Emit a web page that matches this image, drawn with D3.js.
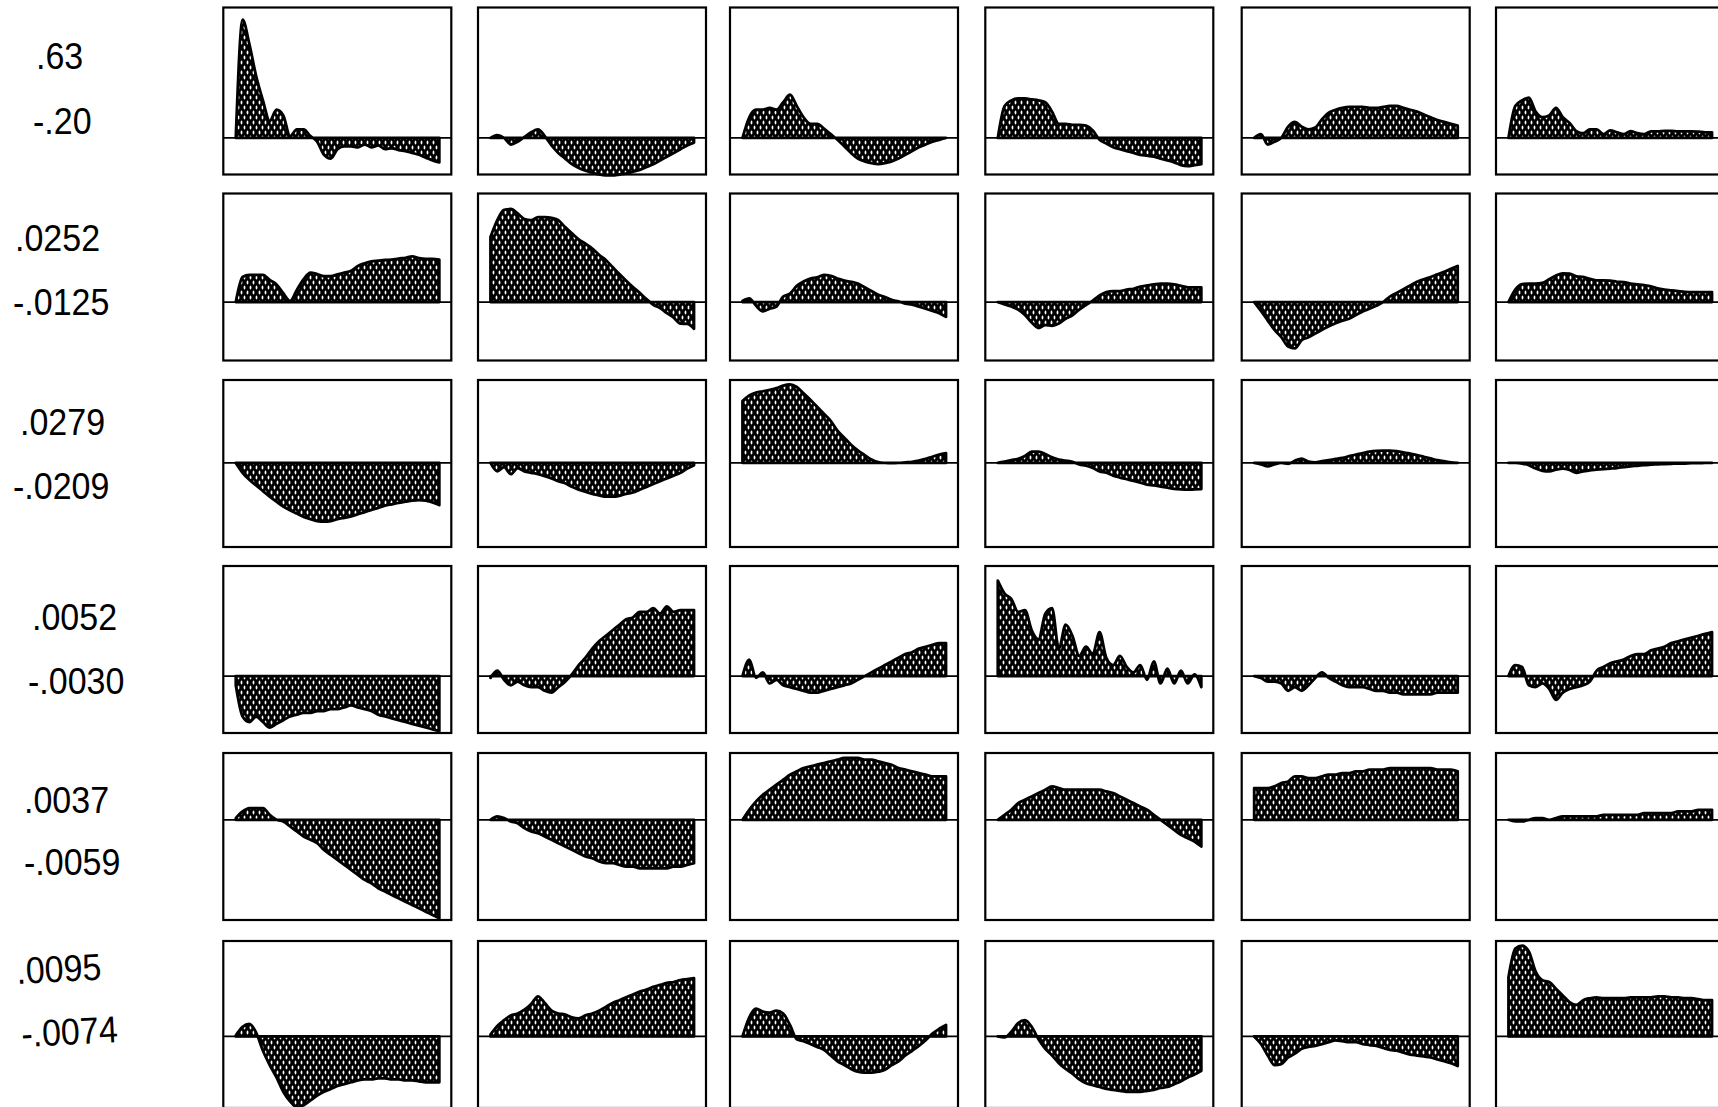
<!DOCTYPE html>
<html><head><meta charset="utf-8">
<script src="https://cdn.jsdelivr.net/npm/d3@7"></script>
<style>html,body{margin:0;padding:0;background:#fff;overflow:hidden}</style>
</head><body>
<svg id="chart" width="1718" height="1107"></svg>
<script>
// Row scale labels (row maximum / row minimum)
const maxLabels = [".63", ".0252", ".0279", ".0052", ".0037", ".0095"];
const minLabels = ["-.20", "-.0125", "-.0209", "-.0030", "-.0059", "-.0074"];
const maxValues = [0.63, 0.0252, 0.0279, 0.0052, 0.0037, 0.0095];
const minValues = [-0.20, -0.0125, -0.0209, -0.0030, -0.0059, -0.0074];

// Vertical extent shared by all panels of a row
const rowExtent = [
  [-0.195, 0.695],
  [-0.0158, 0.0294],
  [-0.0299, 0.0295],
  [-0.0031, 0.0060],
  [-0.0060, 0.0040],
  [-0.0075, 0.0100]
];

// Responses, one array per panel, row by row
const row1 = [
  [0,0.63,0.50,0.33,0.20,0.09,0.15,0.12,0.01,0.045,0.045,0.01,-0.02,-0.09,-0.11,-0.06,-0.045,-0.045,-0.05,-0.035,-0.05,-0.04,-0.06,-0.055,-0.065,-0.07,-0.08,-0.09,-0.105,-0.12,-0.13],
  [0,0.015,0,-0.035,-0.02,0.005,0.03,0.045,0.01,-0.04,-0.08,-0.11,-0.14,-0.16,-0.175,-0.185,-0.195,-0.20,-0.20,-0.195,-0.19,-0.18,-0.17,-0.155,-0.14,-0.12,-0.10,-0.08,-0.06,-0.04,-0.025],
  [0,0.11,0.15,0.15,0.16,0.15,0.19,0.23,0.17,0.11,0.075,0.075,0.05,0.02,-0.01,-0.045,-0.08,-0.11,-0.125,-0.135,-0.14,-0.135,-0.125,-0.11,-0.09,-0.07,-0.05,-0.035,-0.02,-0.01,0],
  [0,0.17,0.20,0.21,0.21,0.205,0.20,0.19,0.14,0.075,0.075,0.07,0.07,0.065,0.04,-0.01,-0.03,-0.05,-0.06,-0.07,-0.08,-0.09,-0.095,-0.10,-0.11,-0.12,-0.13,-0.145,-0.15,-0.145,-0.14],
  [0,0.02,-0.035,-0.02,0,0.06,0.085,0.06,0.045,0.055,0.10,0.135,0.15,0.16,0.165,0.165,0.165,0.16,0.16,0.165,0.17,0.17,0.16,0.15,0.14,0.125,0.11,0.095,0.085,0.075,0.065],
  [0,0.17,0.20,0.215,0.14,0.11,0.12,0.16,0.11,0.08,0.036,0.025,0.045,0.045,0.02,0.04,0.03,0.02,0.036,0.025,0.02,0.035,0.035,0.037,0.037,0.035,0.035,0.035,0.033,0.03,0.03]
];
const row2 = [
  [0,0.0068,0.0074,0.0074,0.0074,0.0060,0.0048,0.0024,0.0003,0.0033,0.0062,0.0080,0.0076,0.0070,0.0070,0.0075,0.0080,0.0085,0.0098,0.0105,0.0110,0.0112,0.0114,0.0115,0.0118,0.0120,0.0124,0.0119,0.0117,0.0117,0.0115],
  [0.0176,0.0222,0.0250,0.0252,0.0240,0.0225,0.0222,0.0230,0.0230,0.0228,0.0222,0.0203,0.0186,0.0170,0.0158,0.0145,0.0128,0.0114,0.0095,0.0076,0.0058,0.0041,0.0025,0.0008,-0.0007,-0.0016,-0.0030,-0.0042,-0.0058,-0.0059,-0.0072],
  [0.0003,0.0010,-0.0010,-0.0025,-0.0018,-0.0012,0.0015,0.0023,0.0044,0.0056,0.0064,0.0067,0.0074,0.0071,0.0064,0.0058,0.0055,0.0050,0.0040,0.0030,0.0020,0.0014,0.0006,0.0002,-0.0004,-0.0007,-0.0012,-0.0018,-0.0024,-0.0030,-0.0040],
  [0,-0.0006,-0.0012,-0.0020,-0.0035,-0.0055,-0.0070,-0.0062,-0.0064,-0.0058,-0.0045,-0.0036,-0.0020,-0.0008,0.0004,0.0018,0.0027,0.0030,0.0030,0.0034,0.0036,0.0042,0.0045,0.0048,0.0050,0.0050,0.0048,0.0044,0.0040,0.0040,0.0040],
  [0,-0.0024,-0.0050,-0.0075,-0.0095,-0.0120,-0.0125,-0.0103,-0.0095,-0.0085,-0.0075,-0.0065,-0.0057,-0.0050,-0.0045,-0.0035,-0.0025,-0.0018,-0.0010,0,0.0015,0.0025,0.0035,0.0045,0.0055,0.0062,0.0068,0.0075,0.0082,0.0090,0.0098],
  [0,0.0034,0.0049,0.0050,0.0050,0.0052,0.0062,0.0072,0.0078,0.0077,0.0070,0.0068,0.0063,0.0059,0.0059,0.0058,0.0055,0.0054,0.0050,0.0048,0.0046,0.0043,0.0037,0.0034,0.0032,0.0030,0.0028,0.0027,0.0027,0.0027,0.0027]
];
const row3 = [
  [0,-0.0035,-0.0060,-0.0080,-0.0100,-0.0120,-0.0138,-0.0155,-0.0168,-0.0180,-0.0192,-0.0200,-0.0207,-0.0209,-0.0207,-0.0200,-0.0195,-0.0190,-0.0182,-0.0175,-0.0167,-0.0160,-0.0152,-0.0147,-0.0142,-0.0138,-0.0134,-0.0132,-0.0134,-0.0140,-0.0150],
  [0,-0.0030,-0.0015,-0.0040,-0.0018,-0.0030,-0.0035,-0.0040,-0.0047,-0.0055,-0.0065,-0.0072,-0.0085,-0.0095,-0.0102,-0.0110,-0.0115,-0.0120,-0.0120,-0.0117,-0.0110,-0.0105,-0.0095,-0.0085,-0.0075,-0.0065,-0.0055,-0.0045,-0.0035,-0.0020,-0.0008],
  [0.0220,0.0240,0.0250,0.0255,0.0260,0.0266,0.0275,0.0279,0.0270,0.0248,0.0225,0.0200,0.0175,0.0150,0.0115,0.0090,0.0065,0.0045,0.0028,0.0012,0.0003,0,-0.0001,0,0.0002,0.0004,0.0008,0.0015,0.0022,0.0030,0.0035],
  [0,0.0005,0.0010,0.0015,0.0025,0.0040,0.0040,0.0032,0.0020,0.0012,0.0008,0.0004,-0.0005,-0.0010,-0.0018,-0.0030,-0.0035,-0.0045,-0.0052,-0.0058,-0.0064,-0.0070,-0.0077,-0.0080,-0.0084,-0.0088,-0.0092,-0.0094,-0.0095,-0.0094,-0.0093],
  [0,-0.0005,-0.0012,-0.0005,0,-0.0003,0.0008,0.0015,0.0005,0.0002,0.0006,0.0010,0.0014,0.0018,0.0024,0.0030,0.0035,0.0040,0.0043,0.0044,0.0044,0.0042,0.0038,0.0033,0.0028,0.0022,0.0016,0.0010,0.0006,0.0002,0],
  [0,0,-0.0002,-0.0008,-0.0020,-0.0028,-0.0030,-0.0024,-0.0020,-0.0025,-0.0035,-0.0030,-0.0026,-0.0024,-0.0022,-0.0020,-0.0018,-0.0015,-0.0012,-0.0010,-0.0008,-0.0006,-0.0005,-0.0004,-0.0003,-0.0002,-0.0002,-0.0001,-0.0001,0,0]
];
const row4 = [
  [-0.0005,-0.0022,-0.0025,-0.0022,-0.0025,-0.0028,-0.0026,-0.0024,-0.0022,-0.0021,-0.0020,-0.0020,-0.0019,-0.0019,-0.0018,-0.0018,-0.0017,-0.0016,-0.0017,-0.0018,-0.0019,-0.0021,-0.0022,-0.0023,-0.0024,-0.0025,-0.0026,-0.0027,-0.0028,-0.0029,-0.0030],
  [-0.0001,0.0003,-0.0002,-0.0005,-0.0003,-0.0005,-0.0006,-0.0006,-0.0008,-0.0009,-0.0006,-0.0003,0.0001,0.0006,0.0010,0.0015,0.0019,0.0022,0.0025,0.0028,0.0031,0.0032,0.0035,0.0035,0.0037,0.0034,0.0038,0.0035,0.0036,0.0036,0.0036],
  [0,0.0009,-0.0001,0.0002,-0.0004,-0.0002,-0.0005,-0.0006,-0.0007,-0.0008,-0.0009,-0.0009,-0.0008,-0.0007,-0.0006,-0.0005,-0.0004,-0.0002,0,0.0002,0.0004,0.0006,0.0008,0.0010,0.0012,0.0013,0.0015,0.0016,0.0017,0.0018,0.0018],
  [0.0052,0.0045,0.0042,0.0035,0.0036,0.0025,0.0020,0.0034,0.0037,0.0015,0.0028,0.0022,0.0011,0.0016,0.0012,0.0024,0.0010,0.0006,0.0011,0.0005,0.0002,0.0006,-0.0002,0.0008,-0.0004,0.0004,-0.0004,0.0003,-0.0004,0.0001,-0.0006],
  [0,-0.0001,-0.0003,-0.0003,-0.0004,-0.0008,-0.0006,-0.0008,-0.0005,-0.0001,0.0002,-0.0001,-0.0003,-0.0005,-0.0006,-0.0006,-0.0006,-0.0007,-0.0008,-0.0008,-0.0009,-0.0009,-0.0010,-0.0010,-0.0010,-0.0010,-0.0010,-0.0009,-0.0009,-0.0009,-0.0009],
  [0,0.0006,0.0005,-0.0005,-0.0006,-0.0004,-0.0007,-0.0013,-0.0009,-0.0007,-0.0006,-0.0005,-0.0003,0.0003,0.0005,0.0007,0.0008,0.0009,0.0011,0.0012,0.0012,0.0014,0.0015,0.0016,0.0018,0.0019,0.0020,0.0021,0.0022,0.0023,0.0024]
];
const row5 = [
  [0.0001,0.0005,0.0007,0.0007,0.0007,0.0003,0,-0.0001,-0.0004,-0.0007,-0.0010,-0.0012,-0.0014,-0.0018,-0.0021,-0.0024,-0.0027,-0.0030,-0.0033,-0.0036,-0.0038,-0.0041,-0.0043,-0.0045,-0.0047,-0.0049,-0.0051,-0.0053,-0.0055,-0.0057,-0.0059],
  [0,0.0002,0.0001,-0.0001,-0.0002,-0.0005,-0.0007,-0.0008,-0.0010,-0.0012,-0.0014,-0.0016,-0.0018,-0.0020,-0.0022,-0.0023,-0.0025,-0.0026,-0.0026,-0.0027,-0.0028,-0.0028,-0.0029,-0.0029,-0.0029,-0.0029,-0.0029,-0.0028,-0.0028,-0.0027,-0.0026],
  [0,0.0006,0.0011,0.0015,0.0018,0.0021,0.0024,0.0027,0.0029,0.0031,0.0032,0.0033,0.0034,0.0035,0.0036,0.0037,0.0037,0.0037,0.0036,0.0036,0.0035,0.0034,0.0033,0.0031,0.0030,0.0029,0.0028,0.0027,0.0026,0.0026,0.0026],
  [0,0.0003,0.0006,0.0010,0.0012,0.0014,0.0016,0.0018,0.0020,0.0019,0.0018,0.0018,0.0018,0.0018,0.0018,0.0018,0.0017,0.0016,0.0014,0.0012,0.0010,0.0008,0.0006,0.0003,0,-0.0003,-0.0006,-0.0009,-0.0011,-0.0013,-0.0016],
  [0.0019,0.0019,0.0019,0.0020,0.0022,0.0023,0.0026,0.0026,0.0025,0.0025,0.0026,0.0027,0.0027,0.0028,0.0028,0.0029,0.0029,0.0030,0.0030,0.0030,0.0031,0.0031,0.0031,0.0031,0.0031,0.0031,0.0031,0.0030,0.0030,0.0030,0.0029],
  [0,-0.0001,-0.0001,0,0.0001,0.0001,0,0.0001,0.0002,0.0002,0.0002,0.0002,0.0002,0.0002,0.0003,0.0003,0.0003,0.0003,0.0003,0.0003,0.0004,0.0004,0.0004,0.0004,0.0004,0.0005,0.0005,0.0005,0.0006,0.0006,0.0006]
];
const row6 = [
  [0.0001,0.0010,0.0013,0.0004,-0.0015,-0.0030,-0.0043,-0.0058,-0.0068,-0.0074,-0.0072,-0.0067,-0.0062,-0.0058,-0.0055,-0.0052,-0.0050,-0.0048,-0.0046,-0.0045,-0.0045,-0.0044,-0.0044,-0.0045,-0.0045,-0.0046,-0.0046,-0.0047,-0.0048,-0.0048,-0.0048],
  [0.0002,0.0011,0.0017,0.0022,0.0024,0.0028,0.0034,0.0042,0.0035,0.0027,0.0024,0.0023,0.0020,0.0019,0.0022,0.0024,0.0027,0.0031,0.0035,0.0038,0.0041,0.0044,0.0047,0.0049,0.0052,0.0054,0.0056,0.0057,0.0059,0.0060,0.0061],
  [0,0.0020,0.0029,0.0026,0.0025,0.0027,0.0024,0.0012,-0.0003,-0.0005,-0.0008,-0.0011,-0.0014,-0.0020,-0.0026,-0.0030,-0.0034,-0.0037,-0.0038,-0.0038,-0.0037,-0.0035,-0.0030,-0.0026,-0.0020,-0.0015,-0.0010,-0.0004,0.0003,0.0008,0.0012],
  [0,-0.0001,0.0005,0.0014,0.0017,0.0010,-0.0003,-0.0013,-0.0020,-0.0028,-0.0034,-0.0039,-0.0045,-0.0049,-0.0051,-0.0053,-0.0055,-0.0056,-0.0057,-0.0058,-0.0058,-0.0058,-0.0057,-0.0056,-0.0054,-0.0053,-0.0050,-0.0047,-0.0043,-0.0040,-0.0036],
  [0,-0.0008,-0.0020,-0.0030,-0.0029,-0.0022,-0.0018,-0.0013,-0.0011,-0.0010,-0.0008,-0.0006,-0.0004,-0.0005,-0.0006,-0.0006,-0.0008,-0.0009,-0.0010,-0.0012,-0.0014,-0.0015,-0.0017,-0.0019,-0.0020,-0.0021,-0.0022,-0.0024,-0.0026,-0.0028,-0.0031],
  [0.0062,0.0092,0.0095,0.0089,0.0068,0.0059,0.0057,0.0050,0.0043,0.0036,0.0033,0.0038,0.0040,0.0041,0.0040,0.0040,0.0040,0.0040,0.0041,0.0041,0.0041,0.0041,0.0042,0.0042,0.0041,0.0041,0.0040,0.0040,0.0039,0.0038,0.0038]
];
const rows = [row1, row2, row3, row4, row5, row6];

// ---- layout ----
const colLeft = [223.3, 478, 730, 985.3, 1241.7, 1496];
const rowTop = [7.5, 193.5, 380, 566, 753, 941];
const panelW = 228, panelH = 167;
const dataInset = [12.5, 216];
const maxLabelPos = [[36, 69], [15, 251], [20, 435], [32, 630], [24, 813], [17, 984]];
const minLabelPos = [[33, 134], [13, 315], [13, 499], [28, 694], [24, 875], [22, 1047]];
const labelTilt = [0, 0, 0, 0, 0, -3];

const svg = d3.select("#chart");
svg.append("rect").attr("width", 1718).attr("height", 1107).attr("fill", "#fff");

// stippled fill: black ground with staggered vertical white dots
const defs = svg.append("defs");
const pat = defs.append("pattern")
  .attr("id", "stipple").attr("patternUnits", "userSpaceOnUse")
  .attr("width", 6).attr("height", 10);
pat.append("rect").attr("width", 6).attr("height", 10).attr("fill", "#000");
pat.append("ellipse").attr("cx", 1.5).attr("cy", 2.5).attr("rx", 0.9).attr("ry", 2.0).attr("fill", "#fff");
pat.append("ellipse").attr("cx", 4.5).attr("cy", 7.5).attr("rx", 0.9).attr("ry", 2.0).attr("fill", "#fff");

const font = "'Liberation Sans', Arial, Helvetica, sans-serif";

rows.forEach((series, r) => {
  const y = d3.scaleLinear().domain(rowExtent[r]).range([rowTop[r] + panelH, rowTop[r]]);

  // row scale labels, slightly tall lettering
  [[maxLabels[r], maxLabelPos[r]], [minLabels[r], minLabelPos[r]]].forEach(([txt, pos]) => {
    const tf = `translate(${pos[0]},${pos[1]})` +
      (labelTilt[r] ? ` rotate(${labelTilt[r]})` : "") + " scale(1,1.1)";
    svg.append("text")
      .attr("transform", tf)
      .attr("font-family", font).attr("font-size", 34)
      .attr("fill", "#000").text(txt);
  });

  series.forEach((vals, c) => {
    const left = colLeft[c];
    const x = d3.scaleLinear().domain([0, vals.length - 1])
      .range([left + dataInset[0], left + dataInset[1]]);
    const g = svg.append("g");

    g.append("rect").attr("x", left).attr("y", rowTop[r])
      .attr("width", panelW).attr("height", panelH).attr("fill", "#fff");

    const area = d3.area()
      .x((d, i) => x(i)).y0(y(0)).y1(d => y(d))
      .curve(d3.curveMonotoneX);
    g.append("path").datum(vals).attr("d", area)
      .attr("fill", "url(#stipple)").attr("stroke", "#000")
      .attr("stroke-width", 2.8).attr("stroke-linejoin", "round");

    g.append("line").attr("x1", left).attr("x2", left + panelW)
      .attr("y1", y(0)).attr("y2", y(0))
      .attr("stroke", "#000").attr("stroke-width", 1.8);

    g.append("rect").attr("x", left).attr("y", rowTop[r])
      .attr("width", panelW).attr("height", panelH)
      .attr("fill", "none").attr("stroke", "#000").attr("stroke-width", 2.2);
  });
});
</script>
</body></html>
